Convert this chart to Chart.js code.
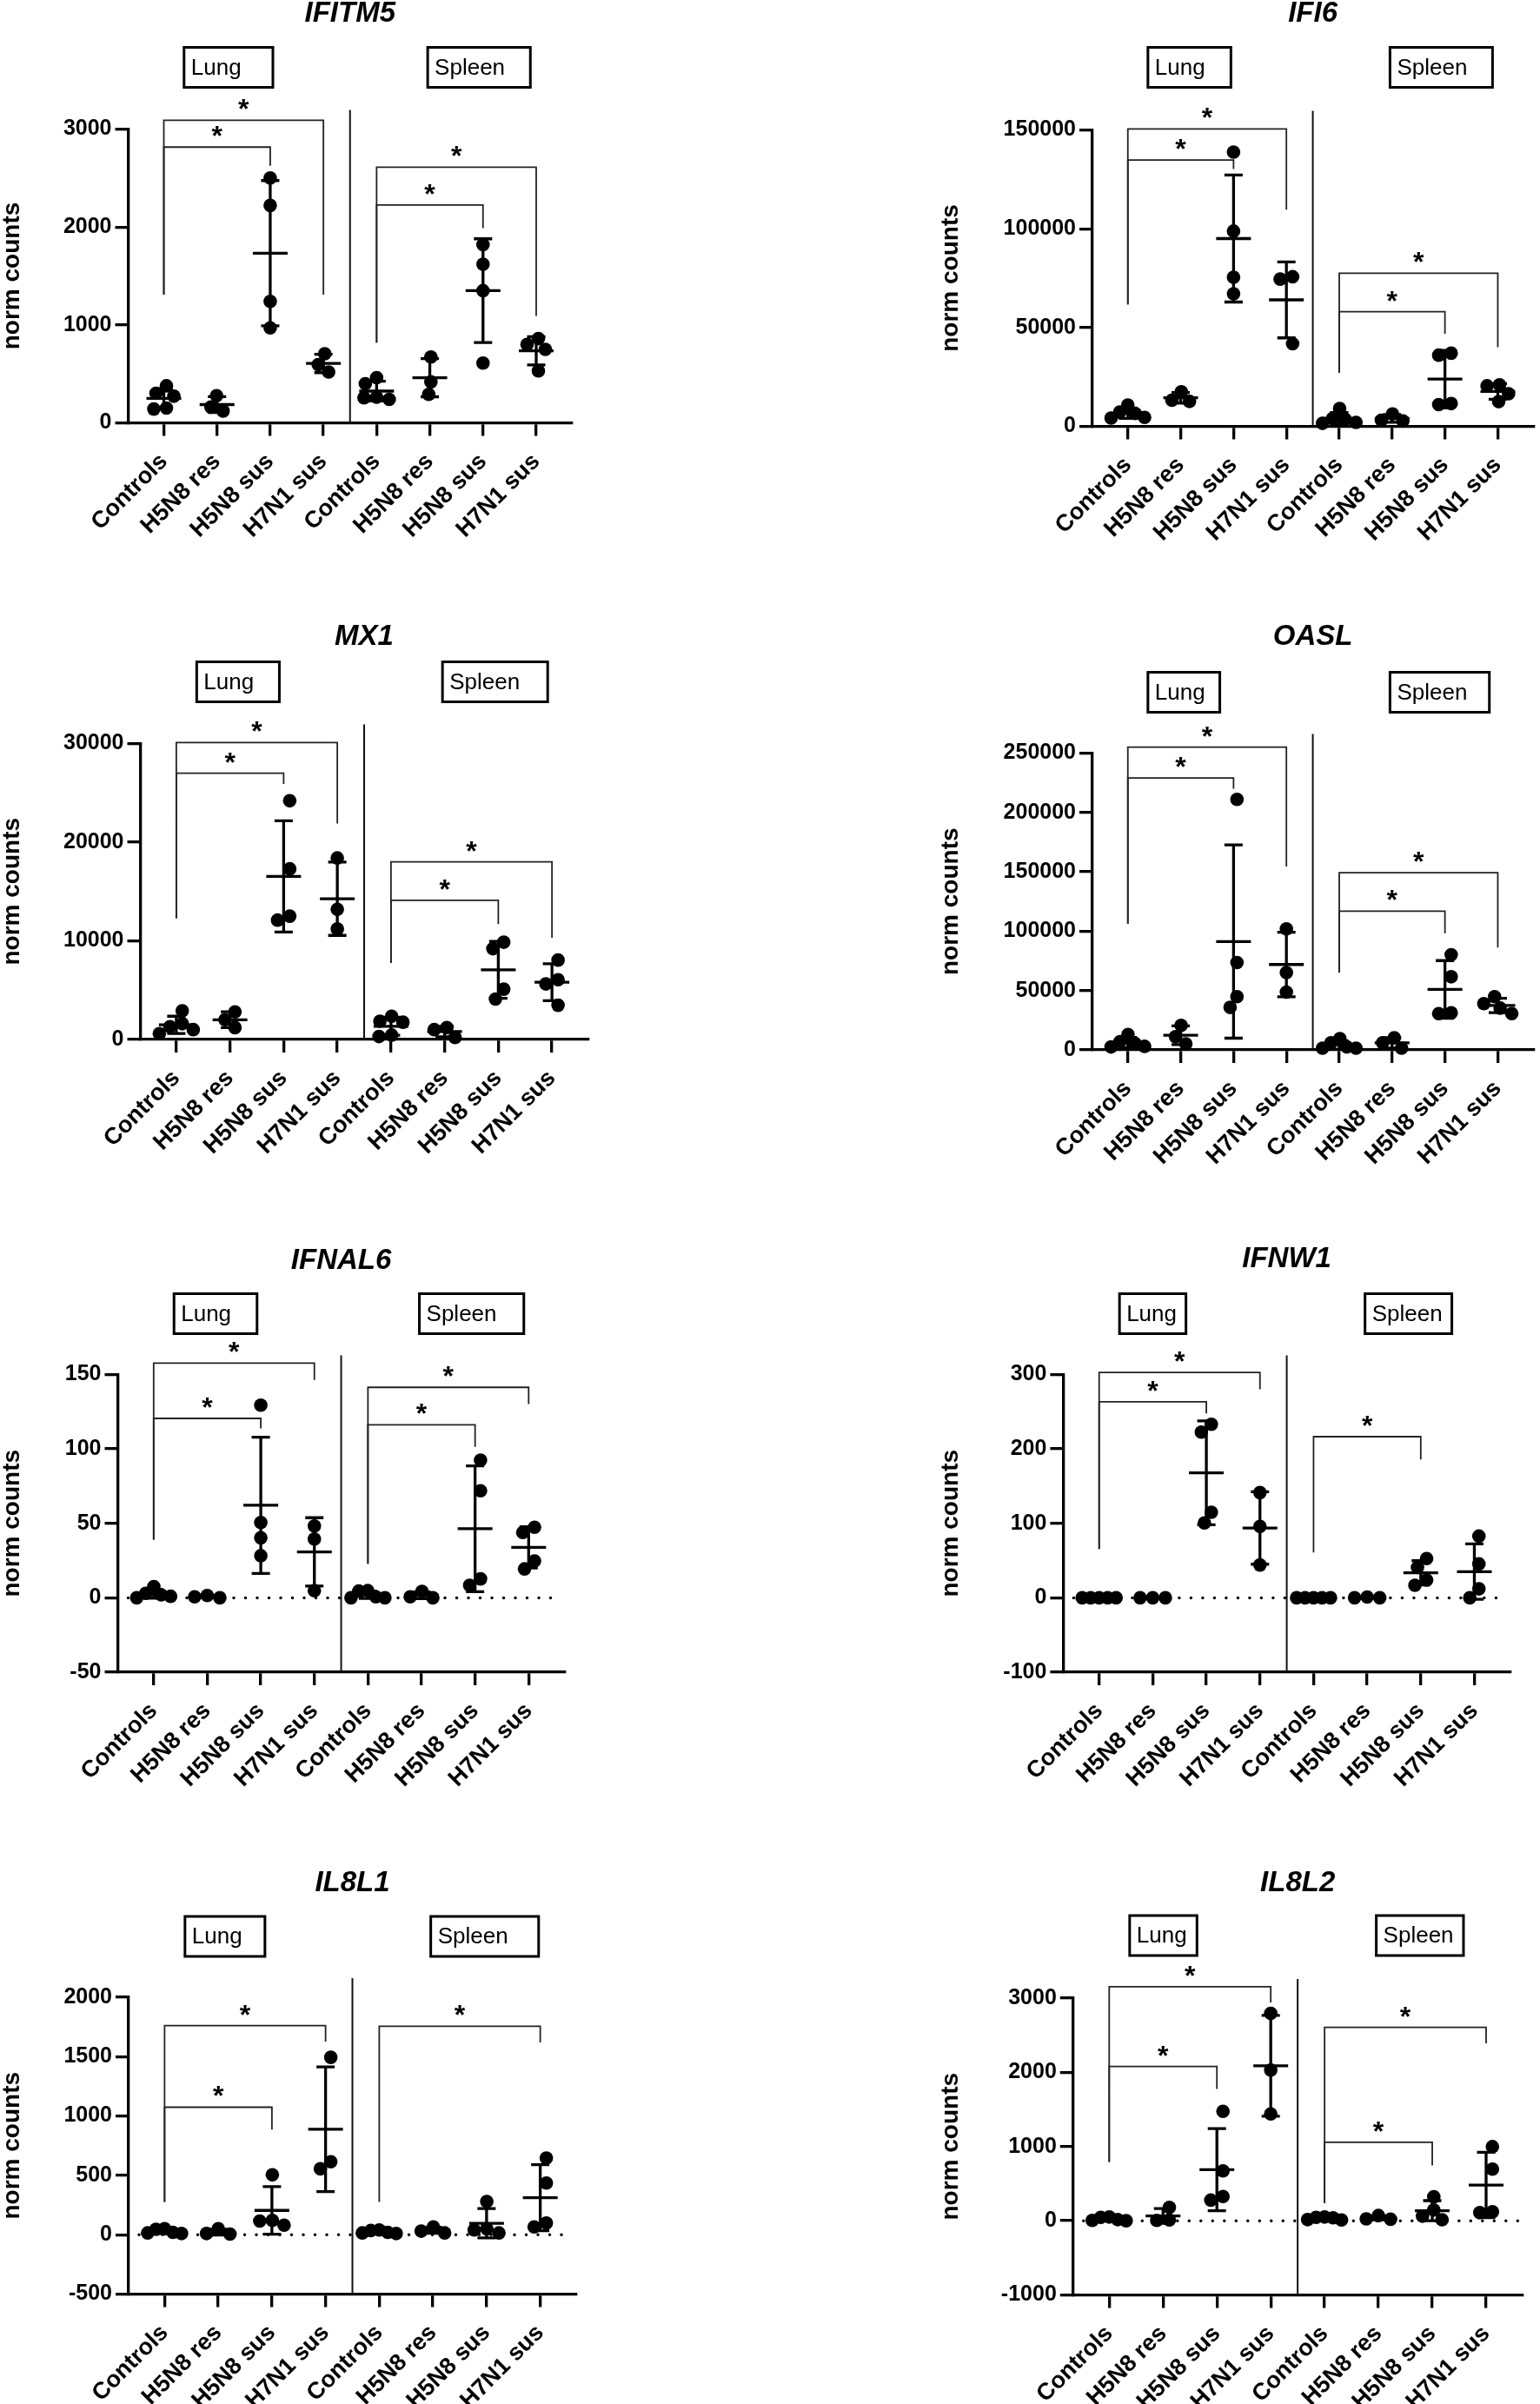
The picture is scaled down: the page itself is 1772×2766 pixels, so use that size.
<!DOCTYPE html>
<html>
<head>
<meta charset="utf-8">
<script src="https://cdn.jsdelivr.net/npm/chart.js@4.4.1/dist/chart.umd.min.js"></script>
<style>
html,body{margin:0;padding:0;background:#fff;}
body{width:1772px;height:2766px;position:relative;overflow:hidden;}
canvas{position:absolute;}
</style>
</head>
<body>
<script>
// ---------------- DATA ----------------
const categories = ['Controls','H5N8 res','H5N8 sus','H7N1 sus','Controls','H5N8 res','H5N8 sus','H7N1 sus'];
const tissues = ['Lung','Spleen'];
const genes = ['IFITM5','IFI6','MX1','OASL','IFNAL6','IFNW1','IL8L1','IL8L2'];
const yAxisTitle = 'norm counts';

// groups: Controls, H5N8 res, H5N8 sus, H7N1 sus
const IFITM5_lung   = [[378,302,272,151,141],[277,161,121],[2500,2220,1240,970],[705,594,519]];
const IFITM5_spleen = [[462,400,262,255,240],[673,418,291],[1820,1620,1350,610],[860,800,750,530]];
const IFI6_lung     = [[10800,7200,6500,4500,4200],[17500,13200,12600],[138800,98800,75400,67100],[75700,74500,41800]];
const IFI6_spleen   = [[9000,4000,3500,2000,1500],[6300,3100,2700],[37000,36000,11500,11000],[21000,20500,16500,12500]];
const MX1_lung      = [[2900,1600,1300,1000,600],[2800,2000,1200],[24200,17300,12500,12100],[18400,13200,11200]];
const MX1_spleen    = [[2350,1850,1750,450,300],[1200,1000,200],[9860,9200,5100,4100],[8050,6060,5630,3470]];
const OASL_lung     = [[13000,7000,5500,3000,2500],[20700,11100,5100],[211000,73600,44800,35800],[101900,65200,48700]];
const OASL_spleen   = [[9500,6000,2500,1500,1500],[10200,6000,1500],[80200,61600,31200,30600],[44800,39000,35200,30600]];
const IFNAL6_lung   = [[7.5,3,2,1,0],[1.5,0.7,0],[129.4,50.6,40.3,28.3],[48.2,39.5,4.8]];
const IFNAL6_spleen = [[4.8,4.5,0.7,0,0],[4.3,0.7,0],[92.5,71.9,12.7,8.4],[47.4,43.9,24.7,19.4]];
const IFNW1_lung    = [[0,0,0,0,0],[0,0,0],[233.2,222.7,114.9,100.6],[141.3,95.8,44.1]];
const IFNW1_spleen  = [[0,0,0,0,0],[1,0,0],[52.7,40.7,23.9,16.8],[82.9,45.5,12,0]];
const IL8L1_lung    = [[50,45,20,15,10],[50,10,5],[504,120,115,80],[1494,615,555]];
const IL8L1_spleen  = [[40,35,20,15,10],[65,30,15],[280,50,40,15],[645,435,99,66]];
const IL8L2_lung    = [[50,45,15,5,0],[180,10,5],[1474,672,326,278],[2794,2030,1440]];
const IL8L2_spleen  = [[50,45,40,15,10],[70,25,20],[322,144,62,14],[998,696,120,110]];

// y axis ranges / tick steps per gene
const yMins  = [0, 0, 0, 0, -50, -100, -500, -1000];
const yMaxs  = [3000, 150000, 30000, 250000, 150, 300, 2000, 3000];
const ySteps = [1000, 50000, 10000, 50000, 50, 100, 500, 1000];

// significance brackets: [fromGroup, toGroup, barValue, leftLegEndValue, rightLegEndValue]
const IFITM5_sig = [[0,3,3089,1309,1309],[0,2,2816,1309,2625],[4,7,2611,818,1091],[4,6,2225,818,1989]];
const IFI6_sig   = [[0,3,150500,61700,109600],[0,2,134800,61700,130200],[4,7,77500,27000,40000],[4,6,58000,27000,46900]];
const MX1_sig    = [[0,3,30100,12300,21900],[0,2,27000,12300,25900],[4,7,18000,7760,10300],[4,6,14100,7760,11700]];
const OASL_sig   = [[0,3,255100,106400,154400],[0,2,229000,106400,220000],[4,7,149300,65200,86200],[4,6,116900,65200,98300]];
const IFNAL6_sig = [[0,3,157.7,39.1,146.4],[0,2,120.5,39.1,113.8],[4,7,141.4,22.8,130.1],[4,6,116.2,22.8,101.4]];
const IFNW1_sig  = [[0,3,302.7,65.6,280.2],[0,2,263.4,65.6,247.6],[4,6,216.5,60.8,185.8]];
const IL8L1_sig  = [[0,3,1761,276,1626],[0,2,1074,276,885],[4,7,1755,276,1620]];
const IL8L2_sig  = [[0,3,3154,792,2942],[0,2,2078,792,1776],[4,7,2606,240,2390],[4,6,1056,240,744]];
const sigLabel = '*';

const geneLung   = [IFITM5_lung, IFI6_lung, MX1_lung, OASL_lung, IFNAL6_lung, IFNW1_lung, IL8L1_lung, IL8L2_lung];
const geneSpleen = [IFITM5_spleen, IFI6_spleen, MX1_spleen, OASL_spleen, IFNAL6_spleen, IFNW1_spleen, IL8L1_spleen, IL8L2_spleen];
const geneSig    = [IFITM5_sig, IFI6_sig, MX1_sig, OASL_sig, IFNAL6_sig, IFNW1_sig, IL8L1_sig, IL8L2_sig];

// ---------------- LAYOUT (pixels) ----------------
const FONT = "'Liberation Sans', Arial, Helvetica, sans-serif";
const colLeft = [0, 1080], colWidth = [886, 692];
const rowTop = [0, 700, 1415, 2126], rowHeight = [700, 715, 711, 640];
// plot-area edges per panel + title/box offsets above plot top
const panelLayout = [
  {col:0,row:0,L:147.5,T:148.5, B:486.5, R:658,   titleGap:133, boxGap:71, lungR:2.05, spleenR:6.89},
  {col:1,row:0,L:1257, T:149.5, B:490.5, R:1770,  titleGap:134, boxGap:72, lungR:1.95, spleenR:6.90},
  {col:0,row:1,L:161.5,T:855.5, B:1196,  R:676.5, titleGap:123, boxGap:71, lungR:1.92, spleenR:6.92},
  {col:1,row:1,L:1257, T:866.5, B:1208,  R:1770,  titleGap:134, boxGap:70, lungR:1.74, spleenR:6.84},
  {col:0,row:2,L:135.5,T:1581.5,B:1924,  R:649.6, titleGap:131, boxGap:70, lungR:1.93, spleenR:6.91},
  {col:1,row:2,L:1223.4,T:1581.5,B:1924, R:1737.8,titleGap:133, boxGap:70, lungR:1.62, spleenR:6.58},
  {col:0,row:3,L:148,  T:2298,  B:2639.5,R:663,   titleGap:131, boxGap:70, lungR:1.87, spleenR:6.97},
  {col:1,row:3,L:1234.8,T:2299, B:2640.5,R:1751.5,titleGap:132, boxGap:72, lungR:1.63, spleenR:6.58}
];
const X_MIN = -0.67, X_MAX = 7.67;
const DOT_R = 7.8;
const LINE_W = 3.3;

function mean(a){ return a.reduce((s,v)=>s+v,0)/a.length; }
function sd(a){ const m = mean(a); return Math.sqrt(a.reduce((s,v)=>s+(v-m)*(v-m),0)/(a.length-1)); }

// beeswarm-style horizontal spreading (pixel space), returns offsets in px
function swarm(values, pxPerUnit){
  const D = 14.5, CAP = 19.5;
  const order = values.map((v,i)=>i).sort((a,b)=>values[b]-values[a]);
  const placed = [];
  const off = new Array(values.length).fill(0);
  order.forEach(i=>{
    const yy = values[i]*pxPerUnit;
    let chosen = 0;
    for (let s=0; s<=80; s+=0.5){
      const cands = s===0 ? [0] : [-s, s];
      let ok = null;
      for (const dx of cands){
        if (placed.every(p => (p.dx-dx)*(p.dx-dx) + (p.y-yy)*(p.y-yy) >= D*D)) { ok = dx; break; }
      }
      if (ok !== null){ chosen = ok; break; }
    }
    off[i] = chosen; placed.push({dx:chosen, y:yy});
  });
  const mx = Math.max(...off), mn = Math.min(...off);
  const shift = -(mx+mn)/2;
  for (let i=0;i<off.length;i++) off[i]+=shift;
  const amax = Math.max(...off.map(Math.abs));
  if (amax > CAP) for (let i=0;i<off.length;i++) off[i]*=CAP/amax;
  return off;
}

const extras = {
  id: 'extras',
  beforeDatasetsDraw(chart){
    const o = chart.options.plugins.extras;
    const {ctx, chartArea:ca, scales:{x, y}} = chart;
    ctx.save();
    // dotted zero line
    if (o.yMin < 0){
      const y0 = y.getPixelForValue(0);
      ctx.strokeStyle = '#000'; ctx.lineWidth = 3.5; ctx.lineCap = 'round';
      ctx.setLineDash([0, 13.5]);
      ctx.beginPath(); ctx.moveTo(ca.left + 12, y0); ctx.lineTo(ca.right - 4, y0); ctx.stroke();
      ctx.setLineDash([]);
    }
    // tissue divider
    const xd = x.getPixelForValue(3.5);
    ctx.strokeStyle = '#111'; ctx.lineWidth = 2; ctx.lineCap = 'butt';
    ctx.beginPath(); ctx.moveTo(xd, ca.top - 22); ctx.lineTo(xd, ca.bottom); ctx.stroke();
    ctx.restore();
  },
  afterDatasetsDraw(chart){
    const o = chart.options.plugins.extras;
    const {ctx, scales:{x, y}} = chart;
    ctx.save();
    ctx.strokeStyle = '#000'; ctx.lineWidth = LINE_W; ctx.lineCap = 'butt';
    o.groups.forEach((g, i) => {
      const m = mean(g), s = sd(g);
      const xc = x.getPixelForValue(i);
      const ym = y.getPixelForValue(m), yt = y.getPixelForValue(m + s), yb = y.getPixelForValue(m - s);
      ctx.beginPath();
      ctx.moveTo(xc - 20, ym); ctx.lineTo(xc + 20, ym);
      ctx.moveTo(xc, yt); ctx.lineTo(xc, yb);
      ctx.moveTo(xc - 10.5, yt); ctx.lineTo(xc + 10.5, yt);
      ctx.moveTo(xc - 10.5, yb); ctx.lineTo(xc + 10.5, yb);
      ctx.stroke();
    });
    ctx.restore();
  },
  afterDraw(chart){
    const o = chart.options.plugins.extras;
    const {ctx, chartArea:ca, scales:{x, y}} = chart;
    ctx.save();
    // significance brackets
    ctx.strokeStyle = '#222'; ctx.lineWidth = 1.8;
    ctx.fillStyle = '#000';
    ctx.font = 'bold 32px ' + FONT;
    ctx.textAlign = 'center'; ctx.textBaseline = 'alphabetic';
    o.sig.forEach(([a, b, top, le, re]) => {
      const xa = x.getPixelForValue(a), xb = x.getPixelForValue(b);
      const yt = y.getPixelForValue(top);
      ctx.beginPath();
      ctx.moveTo(xa, y.getPixelForValue(le)); ctx.lineTo(xa, yt);
      ctx.lineTo(xb, yt); ctx.lineTo(xb, y.getPixelForValue(re));
      ctx.stroke();
      ctx.fillText(sigLabel, (xa + xb) / 2, yt - 2);
    });
    // gene title
    ctx.font = 'italic bold 33px ' + FONT;
    ctx.textBaseline = 'middle';
    ctx.fillText(o.gene, x.getPixelForValue(3.5), ca.top - o.titleGap);
    // tissue boxes
    const bh = 46, by = ca.top - o.boxGap - bh / 2;
    [[0.38, o.lungR, tissues[0]], [4.96, o.spleenR, tissues[1]]].forEach(([l, r, t]) => {
      const xl = x.getPixelForValue(l), xr = x.getPixelForValue(r);
      ctx.lineWidth = 3; ctx.strokeStyle = '#000';
      ctx.strokeRect(xl, by, xr - xl, bh);
      ctx.font = '26px ' + FONT;
      ctx.textAlign = 'left';
      ctx.fillText(t, xl + 8, by + bh / 2 + 1);
    });
    ctx.restore();
  }
};

genes.forEach((gene, gi) => {
  const lay = panelLayout[gi];
  const cl = colLeft[lay.col], cw = colWidth[lay.col];
  const ct = rowTop[lay.row], chH = rowHeight[lay.row];
  const cv = document.createElement('canvas');
  cv.width = cw; cv.height = chH;
  cv.style.left = cl + 'px'; cv.style.top = ct + 'px';
  cv.style.width = cw + 'px'; cv.style.height = chH + 'px';
  document.body.appendChild(cv);

  const groups = geneLung[gi].concat(geneSpleen[gi]);
  const pxPerUnit = (lay.B - lay.T) / (yMaxs[gi] - yMins[gi]);
  const catPx = (lay.R - lay.L) / (X_MAX - X_MIN);
  const points = [];
  groups.forEach((g, i) => {
    const offs = swarm(g, pxPerUnit);
    g.forEach((v, k) => points.push({x: i + offs[k] / catPx, y: v}));
  });

  const tickFont = {family: FONT, size: 25, weight: 'bold'};
  new Chart(cv, {
    type: 'scatter',
    data: {datasets: [{data: points, pointRadius: DOT_R, pointHoverRadius: DOT_R,
      backgroundColor: '#000', borderColor: '#000', borderWidth: 0, clip: false}]},
    options: {
      responsive: false, animation: false, devicePixelRatio: 1, events: [],
      layout: {padding: {left: 0, top: lay.T - ct, right: cl + cw - lay.R, bottom: 0}},
      plugins: {
        legend: {display: false}, tooltip: {enabled: false},
        extras: {groups, sig: geneSig[gi], gene, yMin: yMins[gi],
          titleGap: lay.titleGap, boxGap: lay.boxGap, lungR: lay.lungR, spleenR: lay.spleenR}
      },
      scales: {
        x: {
          type: 'linear', min: X_MIN, max: X_MAX,
          afterBuildTicks: s => { s.ticks = categories.map((c, i) => ({value: i})); },
          afterFit: s => { s.height = ct + chH - lay.B; },
          ticks: {autoSkip: false, minRotation: 45, maxRotation: 45, padding: 14, color: '#000',
            font: {family: FONT, size: 27, weight: 'bold'},
            callback: v => categories[Math.round(v)]},
          grid: {drawOnChartArea: false, drawTicks: true, tickLength: 15, tickWidth: LINE_W, lineWidth: LINE_W, color: '#000'},
          border: {display: true, width: LINE_W, color: '#000'}
        },
        y: {
          type: 'linear', min: yMins[gi], max: yMaxs[gi],
          afterFit: s => { s.width = lay.L - cl; },
          ticks: {stepSize: ySteps[gi], color: '#000', font: tickFont, padding: 4, callback: v => String(v)},
          grid: {drawOnChartArea: false, drawTicks: true, tickLength: 15, tickWidth: LINE_W, lineWidth: LINE_W, color: '#000'},
          border: {display: true, width: LINE_W, color: '#000'},
          title: {display: true, text: yAxisTitle, color: '#000', padding: 0,
            font: {family: FONT, size: 28, weight: 'bold', lineHeight: 1}}
        }
      }
    },
    plugins: [extras]
  });
});
</script>
</body>
</html>
